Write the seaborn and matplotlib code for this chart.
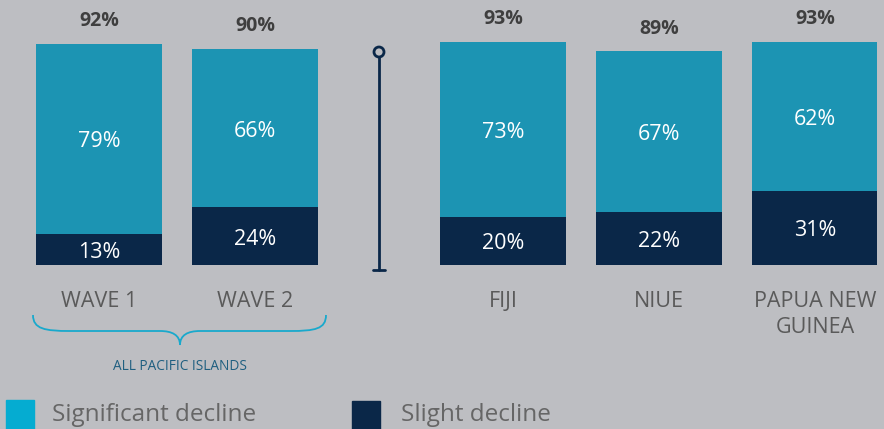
import numpy as np
import pandas as pd
import seaborn as sns
import matplotlib.pyplot as plt
from matplotlib.path import Path
from matplotlib.patches import PathPatch, Circle, Rectangle

# data
left_cats = ["WAVE 1", "WAVE 2"]
left_sig = [79, 66]
left_slight = [13, 24]

right_cats = ["FIJI", "NIUE", "PAPUA NEW\nGUINEA"]
right_sig = [73, 67, 62]
right_slight = [20, 22, 31]

BG = "#bdbec2"
TEAL = "#1c94b3"
NAVY = "#0a2748"
LEG_TEAL = "#05acd1"

sns.set_theme(style="white")
plt.rcParams["font.family"] = ["Open Sans", "DejaVu Sans"]

fig = plt.figure(figsize=(8.84, 4.29), dpi=100)
fig.patch.set_facecolor(BG)

W, H = 884, 429
ybot = 429 - 265
yh = 240


def draw(ax, cats, sig, slight):
    df = pd.DataFrame({"cat": cats, "sig": sig, "slight": slight})
    df["total"] = df["sig"] + df["slight"]
    sns.barplot(data=df, x="cat", y="total", color=TEAL, saturation=1,
                width=0.81, ax=ax, edgecolor="none")
    sns.barplot(data=df, x="cat", y="slight", color=NAVY, saturation=1,
                width=0.81, ax=ax, edgecolor="none")
    ax.set_ylim(0, 100)
    ax.set_facecolor("none")
    for s in ax.spines.values():
        s.set_visible(False)
    ax.set_xlabel("")
    ax.set_ylabel("")
    ax.set_yticks([])
    ax.tick_params(axis="x", length=0, pad=19, labelsize=15.5, labelcolor="#5a5a5a")
    for lab in ax.get_xticklabels():
        lab.set_linespacing(1.3)
        lab.set_verticalalignment("top")
    for i, r in df.iterrows():
        ax.text(i, r["total"] + 9.5, f"{r['total']}%", ha="center", va="center",
                fontsize=14, fontweight="bold", color="#3f3f3f", clip_on=False)
        ax.text(i, r["slight"] + r["sig"] / 2 - 1.2, f"{r['sig']}%", ha="center",
                va="center", fontsize=15.5, color="white")
        ax.text(i, r["slight"] / 2 - 1.2, f"{r['slight']}%", ha="center",
                va="center", fontsize=15.5, color="white")


ax1 = fig.add_axes([21 / W, ybot / H, 312 / W, yh / H])
draw(ax1, left_cats, left_sig, left_slight)
ax1.set_xlim(-0.5, 1.5)

ax2 = fig.add_axes([425 / W, ybot / H, 452.4 / W, yh / H])
draw(ax2, right_cats, right_sig, right_slight)
ax2.set_xlim(-0.5, 2.4)

# overlay for decorations in pixel coordinates
ov = fig.add_axes([0, 0, 1, 1], zorder=-1)
ov.set_xlim(0, W)
ov.set_ylim(H, 0)
ov.axis("off")

# divider
ov.plot([379, 379], [57, 270], color=NAVY, lw=2)
ov.plot([373, 385], [270, 270], color=NAVY, lw=2)
ov.add_patch(Circle((379, 52), 5, fill=False, edgecolor=NAVY, lw=2))

# brace
verts = [(33, 315), (33, 329), (45, 331), (70, 331), (160, 331),
         (172, 331), (180, 335), (180, 345),
         (180, 335), (188, 331), (200, 331), (290, 331),
         (315, 331), (326, 329), (326, 315)]
codes = [Path.MOVETO, Path.CURVE4, Path.CURVE4, Path.CURVE4, Path.LINETO,
         Path.CURVE4, Path.CURVE4, Path.CURVE4,
         Path.CURVE4, Path.CURVE4, Path.CURVE4, Path.LINETO,
         Path.CURVE4, Path.CURVE4, Path.CURVE4]
ov.add_patch(PathPatch(Path(verts, codes), fill=False, edgecolor="#19a9cc", lw=1.3))
ov.text(180, 366, "ALL PACIFIC ISLANDS", ha="center", va="center",
        fontsize=9.8, color="#1f5f80")

# legend
ov.add_patch(Rectangle((6, 400), 28, 30, color=LEG_TEAL, clip_on=False))
ov.text(52, 415, "Significant decline", ha="left", va="center",
        fontsize=17.5, color="#666666")
ov.add_patch(Rectangle((352, 401), 28, 30, color=NAVY, clip_on=False))
ov.text(401, 415, "Slight decline", ha="left", va="center",
        fontsize=17.5, color="#666666")

fig.savefig("out.png", dpi=100, facecolor=BG)
